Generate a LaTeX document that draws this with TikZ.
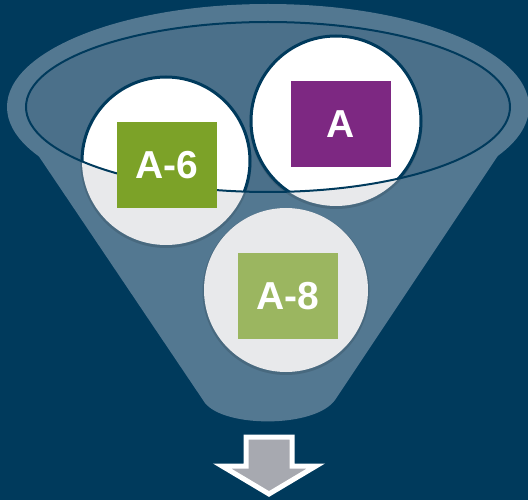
\documentclass[tikz,border=0pt]{standalone}
\usepackage{fontspec}
\setmainfont{Liberation Sans}
\definecolor{fondo}{RGB}{0,58,92}
\definecolor{embudo}{RGB}{83,120,145}
\definecolor{boca}{RGB}{75,112,138}
\definecolor{gris}{RGB}{232,233,235}
\definecolor{verdeA}{RGB}{124,162,40}
\definecolor{morado}{RGB}{125,40,130}
\definecolor{verdeB}{RGB}{155,182,96}
\definecolor{flecha}{RGB}{167,169,176}
\begin{document}
\begin{tikzpicture}[x=1pt, y=-1pt,
  caja/.style={minimum width=100pt, minimum height=86pt, inner sep=0pt,
    text=white, font=\bfseries\fontsize{39}{39}\selectfont},
  bola/.style={fill=white, draw=fondo, line width=3pt}]

  % --- Fondo ---
  \fill[fondo] (0,0) rectangle (528,500);
  \useasboundingbox (0,0) rectangle (528,500);

  % --- Embudo ---
  \fill[embudo] (268,107) ellipse [x radius=261, y radius=103];
  \fill[embudo] (9,112) -- (205,403)
    .. controls (225,428) and (315,428) .. (335,400)
    -- (527,112) -- cycle;
  \fill[boca] (268,107) ellipse [x radius=242, y radius=85];

  % --- Bolas (parte baja gris) ---
  \foreach \cx/\cy/\r in {166/161/84, 336/121/85, 286/290/82} {
    \fill[black, opacity=0.12] (\cx,\cy+1.5) circle (\r+1.5);
    \fill[gris] (\cx,\cy) circle (\r);
  }

  % --- Bolas (parte dentro de la boca) ---
  \begin{scope}
    \clip (268,107) ellipse [x radius=242, y radius=85];
    \foreach \cx/\cy/\r in {166/161/84, 336/121/85}
      \draw[bola] (\cx,\cy) circle (\r);
  \end{scope}
  \draw[fondo, line width=2pt] (268,107) ellipse [x radius=242, y radius=85];

  % --- Cajas ---
  \node[caja, fill=verdeA] (a6) at (167,165) {A-6};
  \node[caja, fill=morado] (a) at (341,124) {A};
  \node[caja, fill=verdeB] (a8) at (288,296) {A-8};

  % --- Flecha ---
  \fill[flecha, draw=white, line width=5pt]
    (246,437) -- (292,437) -- (292,466) -- (316,466) -- (269,494)
    -- (222,466) -- (246,466) -- cycle;

\end{tikzpicture}
\end{document}
